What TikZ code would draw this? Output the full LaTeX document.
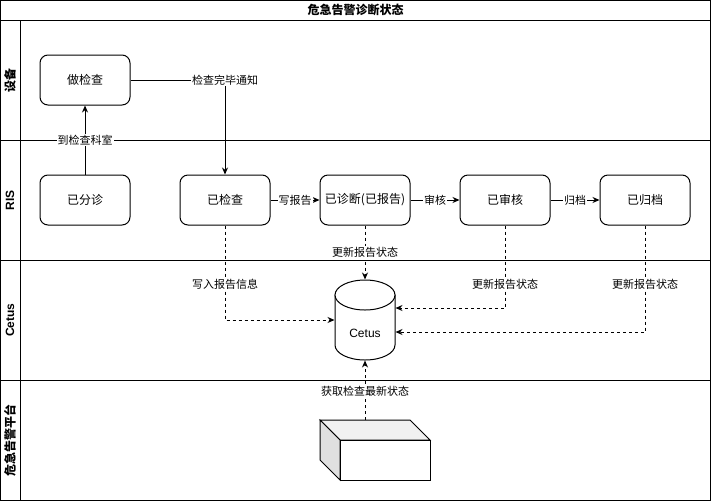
\documentclass[tikz,border=0pt]{standalone}
\usepackage{fontspec}
\setmainfont{Noto Sans CJK SC}
\newfontfamily\lat{Liberation Sans}
\usetikzlibrary{arrows.meta}
\definecolor{topface}{HTML}{F1F1F1}
\definecolor{sideface}{HTML}{E0E0E0}
\begin{document}
\begin{tikzpicture}[x=1pt,y=-1pt,line width=1pt,
  stepbox/.style={draw, rounded corners=8pt, minimum width=90pt, minimum height=50pt, inner sep=0pt, font=\fontsize{12}{14}\selectfont},
  lbl/.style={fill=white, inner sep=1pt, font=\fontsize{11}{13}\selectfont},
  arr/.style={-{Stealth[length=7pt,width=6pt]}},
  darr/.style={arr, dash pattern=on 3pt off 3pt},
  lanelbl/.style={rotate=90, font=\bfseries\fontsize{12}{14}\selectfont},
  titlelbl/.style={font=\bfseries\fontsize{12}{14}\selectfont}]
\useasboundingbox (0,0) rectangle (711,501);
% pool frame
\draw (0.5,0.5) rectangle (710.5,500.5);
\draw (0.5,20) -- (710.5,20);
\draw (20,20) -- (20,500.5);
\draw (0.5,140) -- (710.5,140);
\draw (0.5,260) -- (710.5,260);
\draw (0.5,380) -- (710.5,380);
\node[titlelbl] (title) at (355.5,10) {危急告警诊断状态};
\node[lanelbl] (l1) at (10,80) {设备};
\node[lanelbl] (l2) at (10,200) {\lat\bfseries RIS};
\node[lanelbl] (l3) at (10,320) {\lat\bfseries Cetus};
\node[lanelbl] (l4) at (10,440) {危急告警平台};
% steps
\node[stepbox] (do) at (85,80) {做检查};
\node[stepbox] (fz) at (85,200) {已分诊};
\node[stepbox] (chk) at (225,200) {已检查};
\node[stepbox] (diag) at (365,200) {已诊断(已报告)};
\node[stepbox] (aud) at (505,200) {已审核};
\node[stepbox] (arc) at (645,200) {已归档};
% cylinder
\draw[fill=white] (335,295) -- (335,345) .. controls (335,353.28) and (348.43,360) .. (365,360) .. controls (381.57,360) and (395,353.28) .. (395,345) -- (395,295) -- cycle;
\draw[fill=white] (365,295) ellipse (30 and 15);
\node[minimum width=60pt, minimum height=80pt, inner sep=0pt,
  label={[font=\lat\fontsize{12}{14}\selectfont, yshift=-13pt]center:Cetus}] (cetus) at (365,320) {};
% 3D box
\draw[fill=topface] (320,420) -- (410,420) -- (430,440) -- (340,440) -- cycle;
\draw[fill=sideface] (320,420) -- (340,440) -- (340,480) -- (320,460) -- cycle;
\node[draw, fill=white, minimum width=90pt, minimum height=40pt, inner sep=0pt] (plat) at (385,460) {};
\coordinate (platTop) at (365,420);
% connectors
\draw[arr] (fz) -- (do) node[lbl, midway] {到检查科室};
\draw[arr] (do.east) -| (chk.north) node[lbl, pos=0.5] {检查完毕通知};
\draw[arr] (chk) -- (diag) node[lbl, midway] {写报告};
\draw[arr] (diag) -- (aud) node[lbl, midway] {审核};
\draw[arr] (aud) -- (arc) node[lbl, midway] {归档};
\draw[darr] (chk.south) |- (cetus.west) node[lbl, pos=0.31] {写入报告信息};
\draw[darr] (diag.south) -- (cetus.north) node[lbl, midway] {更新报告状态};
\draw[darr] (aud.south) |- ([yshift=12pt]cetus.east) node[lbl, pos=0.355] {更新报告状态};
\draw[darr] (arc.south) |- ([yshift=-12pt]cetus.east) node[lbl, pos=0.276] {更新报告状态};
\draw[darr] (platTop) -- (cetus.south) node[lbl, pos=0.48] {获取检查最新状态};
\end{tikzpicture}
\end{document}
